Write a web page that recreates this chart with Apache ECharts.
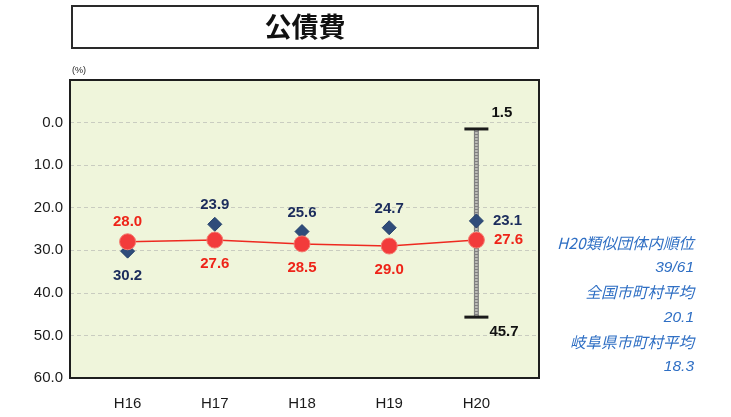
<!DOCTYPE html>
<html>
<head>
<meta charset="utf-8">
<script src="https://cdn.jsdelivr.net/npm/echarts@6/dist/echarts.min.js"></script>
<style>
  html, body { margin: 0; padding: 0; background: #ffffff; }
  #chart { width: 731px; height: 417px; }
</style>
</head>
<body>
<div id="chart"></div>
<script>
// 公債費比率の推移（H16〜H20）
const categories = ['H16', 'H17', 'H18', 'H19', 'H20'];
const cityValues = [28.0, 27.6, 28.5, 29.0, 27.6];      // 本市
const groupAverage = [30.2, 23.9, 25.6, 24.7, 23.1];    // 類似団体平均
const groupRange = { index: 4, min: 1.5, max: 45.7 };   // H20 類似団体の最小・最大
const yTicks = { min: -10, max: 60, interval: 10 };
const sideNotes = [
  'H20類似団体内順位', '39/61',
  '全国市町村平均', '20.1',
  '岐阜県市町村平均', '18.3'
];

const last = categories.length - 1;
const fontLatin = '"Liberation Sans", Arial, sans-serif';
const fontJP = '"Noto Sans CJK JP", sans-serif';

// ラベル位置：2系列が重ならないよう、上にある方を上側へ
function labelPos(i, self, other) {
  if (i === last) return 'right';
  return self[i] < other[i] ? 'top' : 'bottom';
}

const cityData = cityValues.map((v, i) => {
  const pos = labelPos(i, cityValues, groupAverage);
  return { value: v, label: { position: pos, distance: pos === 'right' ? 9 : (pos === 'top' ? 4 : 8) } };
});
const groupData = groupAverage.map((v, i) => {
  const pos = labelPos(i, groupAverage, cityValues);
  return { value: v, label: { position: pos, distance: pos === 'right' ? 9 : (pos === 'top' ? 4 : 10) } };
});

const chart = echarts.init(document.getElementById('chart'));

const option = {
  animation: false,
  backgroundColor: '#ffffff',
  grid: [
    { left: 70, right: 192, top: 80, bottom: 39, show: true,
      backgroundColor: '#eff5db', borderWidth: 0, z: 0 },
    { left: 84, right: 211, top: 80, bottom: 39 }
  ],
  xAxis: [
    { type: 'value', gridIndex: 0, show: false, min: 0, max: 1 },
    { type: 'category', gridIndex: 1, data: categories, boundaryGap: true,
      axisLine: { show: false }, axisTick: { show: false },
      axisLabel: { margin: 18, color: '#1a1a1a', fontSize: 15, fontFamily: fontLatin } }
  ],
  yAxis: [
    { type: 'value', gridIndex: 0, inverse: true,
      min: yTicks.min, max: yTicks.max, interval: yTicks.interval,
      axisLine: { show: false }, axisTick: { show: false },
      axisLabel: { margin: 7, color: '#1a1a1a', fontSize: 15, fontFamily: fontLatin,
        formatter: v => (v < 0 ? '' : v.toFixed(1)) },
      splitLine: { show: true, lineStyle: { color: '#c9ccc0', type: [4, 3], width: 1 } } },
    { type: 'value', gridIndex: 1, inverse: true, show: false,
      min: yTicks.min, max: yTicks.max, interval: yTicks.interval,
      splitLine: { show: false } }
  ],
  graphic: [
    // プロット枠
    { type: 'rect', z: 100, shape: { x: 70, y: 80, width: 469, height: 298 },
      style: { fill: 'none', stroke: '#1e1e1e', lineWidth: 2 } },
    // タイトル枠
    { type: 'rect', shape: { x: 72, y: 6, width: 466, height: 42 },
      style: { fill: 'none', stroke: '#2a2a2a', lineWidth: 2 } },
    { type: 'text', x: 305, y: 27,
      style: { text: '公債費', fill: '#111', font: 'bold 27px ' + fontJP,
        textAlign: 'center', textVerticalAlign: 'middle' } },
    { type: 'text', x: 72, y: 71,
      style: { text: '(%)', fill: '#222', font: '9px ' + fontLatin,
        textAlign: 'left', textVerticalAlign: 'middle' } },
    ...sideNotes.map((t, i) => ({
      type: 'text', x: 694, y: 243 + i * 24.8,
      style: { text: t, fill: '#2f6fc4', font: 'italic 15.5px ' + (i % 2 ? fontLatin : fontJP),
        textAlign: 'right', textVerticalAlign: 'middle' }
    }))
  ],
  series: [
    {
      name: '類似団体の範囲',
      type: 'custom',
      xAxisIndex: 1, yAxisIndex: 1,
      z: 1,
      data: [[groupRange.index, groupRange.min, groupRange.max]],
      renderItem: (params, api) => {
        const top = api.coord([api.value(0), api.value(1)]);
        const bot = api.coord([api.value(0), api.value(2)]);
        const half = 12;
        return {
          type: 'group',
          children: [
            { type: 'line', shape: { x1: top[0], y1: top[1], x2: bot[0], y2: bot[1] },
              style: { stroke: '#808080', lineWidth: 5 } },
            { type: 'line', shape: { x1: top[0], y1: top[1], x2: bot[0], y2: bot[1] },
              style: { stroke: '#bdbdb8', lineWidth: 2.5, lineDash: [2, 1] } },
            { type: 'line', shape: { x1: top[0] - half, y1: top[1], x2: top[0] + half, y2: top[1] },
              style: { stroke: '#1a1a1a', lineWidth: 3 } },
            { type: 'line', shape: { x1: bot[0] - half, y1: bot[1], x2: bot[0] + half, y2: bot[1] },
              style: { stroke: '#1a1a1a', lineWidth: 3 } },
            { type: 'text', x: top[0] + 15, y: top[1] - 16,
              style: { text: api.value(1).toFixed(1), fill: '#111',
                font: 'bold 15px ' + fontLatin, textAlign: 'left', textVerticalAlign: 'middle' } },
            { type: 'text', x: bot[0] + 13, y: bot[1] + 15,
              style: { text: api.value(2).toFixed(1), fill: '#111',
                font: 'bold 15px ' + fontLatin, textAlign: 'left', textVerticalAlign: 'middle' } }
          ]
        };
      }
    },
    {
      name: '類似団体平均',
      type: 'line',
      xAxisIndex: 1, yAxisIndex: 1,
      z: 3,
      data: groupData,
      lineStyle: { width: 0, opacity: 0 },
      symbol: 'diamond',
      symbolSize: 14,
      itemStyle: { color: '#2f4c7a', borderColor: '#24406b', borderWidth: 1 },
      label: { show: true, color: '#1b2c5c', fontWeight: 'bold', fontSize: 15,
        fontFamily: fontLatin, formatter: p => p.value.toFixed(1) }
    },
    {
      name: '本市',
      type: 'line',
      xAxisIndex: 1, yAxisIndex: 1,
      z: 4,
      data: cityData,
      lineStyle: { color: '#ee2a20', width: 1.5 },
      symbol: 'circle',
      symbolSize: 16,
      itemStyle: { color: '#f23b3b', borderColor: '#f47c70', borderWidth: 1 },
      label: { show: true, color: '#ee2418', fontWeight: 'bold', fontSize: 15,
        fontFamily: fontLatin, formatter: p => p.value.toFixed(1) }
    }
  ]
};

chart.setOption(option);
</script>
</body>
</html>
